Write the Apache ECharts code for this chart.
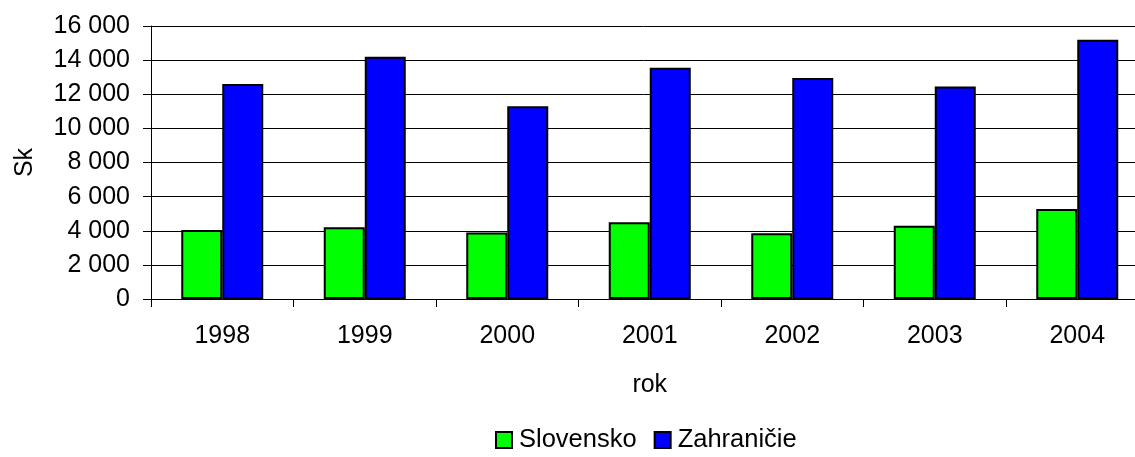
<!DOCTYPE html>
<html>
<head>
<meta charset="utf-8">
<script src="https://cdn.jsdelivr.net/npm/echarts@6/dist/echarts.min.js"></script>
<style>
  html, body { margin: 0; padding: 0; background: #fff; overflow: hidden; }
  #chart { width: 1135px; height: 457px; }
</style>
</head>
<body>
<div id="chart"></div>
<script>
// údaje z grafu
const years = ['1998', '1999', '2000', '2001', '2002', '2003', '2004']
const slovensko = [4050, 4200, 3900, 4500, 3850, 4300, 5270]
const zahranicie = [12600, 14200, 11300, 13550, 12950, 12450, 15200]

const font = 'Liberation Sans, Arial, sans-serif'
const chart = echarts.init(document.getElementById('chart'))

// 16000 -> "16 000"
function sep(v) {
  return String(v).replace(/\B(?=(\d{3})+(?!\d))/g, ' ')
}

const option = {
  animation: false,
  textStyle: { fontFamily: font },
  grid: {
    left: 151,
    top: 26,
    bottom: 158,
    right: -13.5,
    outerBoundsMode: 'none'
  },
  legend: {
    data: ['Slovensko', 'Zahraničie'],
    left: 495,
    top: 427,
    padding: 0,
    icon: 'rect',
    itemWidth: 16,
    itemHeight: 16,
    itemGap: 17,
    textStyle: { fontSize: 25.5, color: '#000', fontFamily: font, padding: [0, 0, 0, 2] }
  },
  xAxis: {
    type: 'category',
    data: years,
    name: 'rok',
    nameLocation: 'middle',
    nameGap: 74,
    nameTextStyle: { fontSize: 25, color: '#000', fontFamily: font },
    axisLine: { lineStyle: { color: '#000', width: 1 } },
    axisTick: { show: true, length: 8, lineStyle: { color: '#000' } },
    axisLabel: { fontSize: 25, color: '#000', margin: 25, fontFamily: font },
    splitLine: { show: false }
  },
  yAxis: {
    type: 'value',
    min: 0,
    max: 16000,
    interval: 2000,
    name: 'Sk',
    nameLocation: 'middle',
    nameRotate: 90,
    nameGap: 113,
    nameTextStyle: { fontSize: 25, color: '#000', fontFamily: font },
    axisLine: { show: true, lineStyle: { color: '#000', width: 1 } },
    axisTick: { show: true, length: 8, lineStyle: { color: '#000' } },
    axisLabel: { fontSize: 25, color: '#000', margin: 21, formatter: sep, fontFamily: font },
    splitLine: { show: true, lineStyle: { color: '#000', width: 1 } }
  },
  series: [
    {
      name: 'Slovensko',
      type: 'bar',
      data: slovensko,
      barWidth: 41,
      barGap: '0%',
      itemStyle: { color: '#00ff00', borderColor: '#000', borderWidth: 2 }
    },
    {
      name: 'Zahraničie',
      type: 'bar',
      data: zahranicie,
      barWidth: 41,
      barGap: '0%',
      itemStyle: { color: '#0000ff', borderColor: '#000', borderWidth: 2 }
    }
  ]
}

chart.setOption(option)
</script>
</body>
</html>
